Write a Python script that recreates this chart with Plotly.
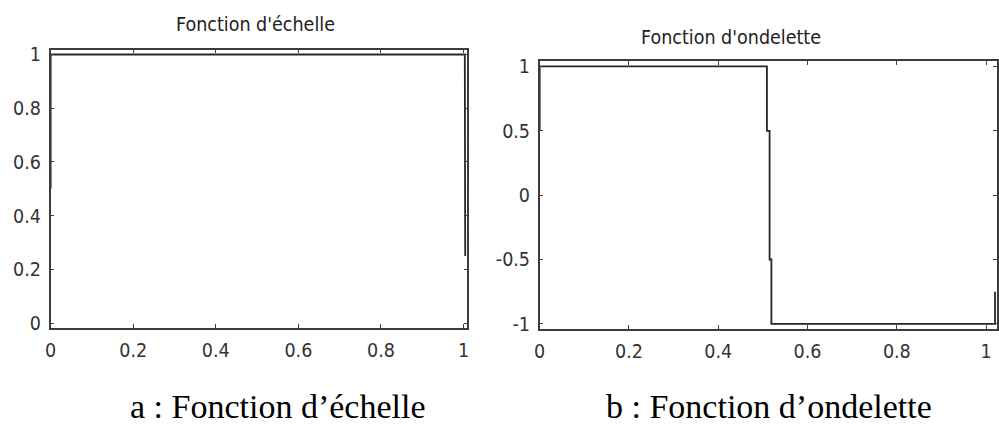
import plotly.graph_objects as go

# Haar scaling function (phi) samples
phi_x = [0, 0, 1.003, 1.003, 1.004, 1.004]
phi_y = [0.5, 1, 1, 0.75, 0.75, 0.25]

# Haar wavelet (psi) samples
psi_x = [0, 0, 0.509, 0.509, 0.515, 0.515, 0.519, 0.519, 1.02, 1.02]
psi_y = [0.5, 1, 1, 0.5, 0.5, -0.5, -0.5, -1, -1, -0.75]

phi_xticks = [0, 0.2, 0.4, 0.6, 0.8, 1]
phi_yticks = [0, 0.2, 0.4, 0.6, 0.8, 1]
psi_xticks = [0, 0.2, 0.4, 0.6, 0.8, 1]
psi_yticks = [-1, -0.5, 0, 0.5, 1]

titles = ["Fonction d'échelle", "Fonction d'ondelette"]
captions = ["a : Fonction d’échelle", "b : Fonction d’ondelette"]

W, H = 999, 432
LINE = "#262626"
AXIS = "#3c3c3c"
NARROW = "DejaVu Sans Condensed, Liberation Sans Narrow, Arial Narrow, sans-serif"
TICKFONT = dict(family=NARROW, size=19.5, color="#333333")

fig = go.Figure()
fig.add_trace(go.Scatter(x=phi_x, y=phi_y, mode="lines", xaxis="x", yaxis="y",
                         line=dict(color=LINE, width=1.8), showlegend=False))
fig.add_trace(go.Scatter(x=psi_x, y=psi_y, mode="lines", xaxis="x2", yaxis="y2",
                         line=dict(color=LINE, width=1.8), showlegend=False))


def axis(domain, rng, ticks, anchor, standoff):
    return dict(domain=domain, range=rng, anchor=anchor, tickvals=ticks,
                ticktext=[f"{t:g}" for t in ticks], ticks="inside", ticklen=4,
                tickwidth=1.2, tickcolor=AXIS, showline=True, linecolor=AXIS,
                linewidth=1.5, mirror="ticks", showgrid=False, zeroline=False,
                tickfont=TICKFONT, ticklabelstandoff=standoff, fixedrange=True)


fig.update_layout(
    width=W, height=H, margin=dict(l=0, r=0, t=0, b=0),
    paper_bgcolor="white", plot_bgcolor="white",
    xaxis=axis([45 / W, 465 / W], [0, 1.009], phi_xticks, "y", 4),
    yaxis=axis([1 - 332 / H, 1 - 45 / H], [-0.018, 1.018], phi_yticks, "x", 4),
    xaxis2=axis([538 / W, 1.0], [0, 1.0244], psi_xticks, "y2", 4),
    yaxis2=axis([1 - 333 / H, 1 - 57 / H], [-1.04, 1.04], psi_yticks, "x2", 4),
)

title_font = dict(family=NARROW, size=19.5, color="#222222")
fig.add_annotation(text=titles[0], x=252 / W, y=1 - 19 / H, xref="paper", yref="paper",
                   showarrow=False, font=title_font, xanchor="center", yanchor="middle")
fig.add_annotation(text=titles[1], x=731 / W, y=1 - 32 / H, xref="paper", yref="paper",
                   showarrow=False, font=title_font, xanchor="center", yanchor="middle")

cap_font = dict(family="Liberation Serif, Times New Roman, serif", size=34, color="#000000")
fig.add_annotation(text=captions[0], x=274.5 / W, y=1 - 413 / H, xref="paper", yref="paper",
                   showarrow=False, font=cap_font, xanchor="center", yanchor="middle")
fig.add_annotation(text=captions[1], x=769 / W, y=1 - 413 / H, xref="paper", yref="paper",
                   showarrow=False, font=cap_font, xanchor="center", yanchor="middle")

fig.write_html("out.html", config={"displayModeBar": False})
